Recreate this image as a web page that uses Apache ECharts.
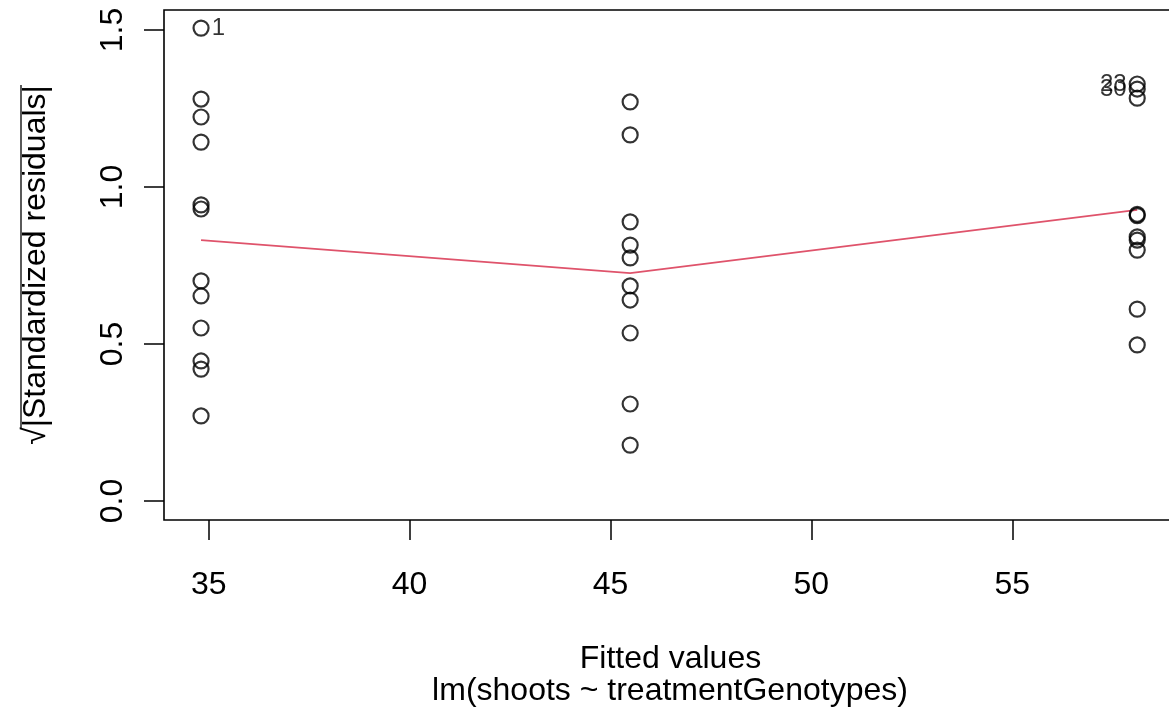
<!DOCTYPE html>
<html>
<head>
<meta charset="utf-8">
<script src="https://cdn.jsdelivr.net/npm/echarts@6/dist/echarts.min.js"></script>
<style>
html,body{margin:0;padding:0;background:#fff;}
#chart{width:1169px;height:715px;}
</style>
</head>
<body>
<div id="chart"></div>
<script>
// Fitted values (x positions of the three groups)
const fittedValues = [34.81, 45.49, 58.11];
// sqrt(|standardized residuals|) per group
const groupA = [1.506, 1.280, 1.223, 1.143, 0.943, 0.930, 0.701, 0.653, 0.551, 0.446, 0.420, 0.271];
const groupB = [1.271, 1.166, 0.889, 0.815, 0.774, 0.685, 0.640, 0.535, 0.309, 0.178];
const groupC = [1.328, 1.312, 1.283, 0.913, 0.909, 0.841, 0.831, 0.799, 0.611, 0.497];
// smoother (lowess) values at each fitted value
const smoothValues = [0.831, 0.726, 0.927];
// labelled observations: [group, index in group, label]
const pointLabels = [[0, 0, '1'], [2, 0, '23'], [2, 1, '30']];
const xTicks = [35, 40, 45, 50, 55];
const yTicks = [0, 0.5, 1, 1.5];

const FONT = '"Liberation Sans", Arial, sans-serif';
const FS = 32;
const groups = [groupA, groupB, groupC];
const scatterData = [];
groups.forEach((g, gi) => {
  g.forEach((v, i) => {
    const item = { value: [fittedValues[gi], v] };
    const lab = pointLabels.find(p => p[0] === gi && p[1] === i);
    if (lab) {
      item.label = {
        show: true,
        formatter: lab[2],
        position: gi === 2 ? 'left' : 'right',
        distance: 2,
        color: '#000',
        fontSize: 24,
        fontFamily: FONT
      };
    }
    scatterData.push(item);
  });
});

const chart = echarts.init(document.getElementById('chart'), null, { renderer: 'canvas' });
chart.setOption({
  animation: false,
  backgroundColor: '#fff',
  grid: {
    left: 164, top: 10, width: 1013, height: 510,
    outerBoundsMode: 'none', containLabel: false,
    show: true, borderColor: '#000', borderWidth: 1.6, backgroundColor: 'transparent'
  },
  xAxis: {
    type: 'value', min: 33.888, max: 59.10,
    axisLine: { show: false, onZero: false },
    splitLine: { show: false },
    axisTick: { show: true, inside: false, length: 20, customValues: xTicks, lineStyle: { color: '#000', width: 1.5 } },
    axisLabel: { customValues: xTicks, color: '#000', fontSize: FS, fontFamily: FONT, margin: 49 },
    name: 'Fitted values',
    nameLocation: 'middle', nameGap: 123,
    nameTextStyle: { color: '#000', fontSize: FS, fontFamily: FONT }
  },
  yAxis: {
    type: 'value', min: -0.0605, max: 1.5637,
    axisLine: { show: false, onZero: false },
    splitLine: { show: false },
    axisTick: { show: true, inside: false, length: 20, customValues: yTicks, lineStyle: { color: '#000', width: 1.5 } },
    axisLabel: {
      customValues: yTicks, rotate: 90, color: '#000', fontSize: FS, fontFamily: FONT, margin: 35,
      formatter: v => v.toFixed(1)
    }
  },
  graphic: [
    {
      type: 'text', x: 670, y: 675,
      style: { text: 'lm(shoots ~ treatmentGenotypes)', fill: '#000', font: FS + 'px ' + FONT, align: 'center', verticalAlign: 'top' }
    },
    {
      type: 'group', x: 36, y: 265, rotation: Math.PI / 2,
      children: [
        {
          type: 'text', x: 0, y: 0,
          style: { text: '\u221A|Standardized residuals|', fill: '#000', font: FS + 'px ' + FONT, align: 'center', verticalAlign: 'middle' }
        },
        {
          type: 'line',
          shape: { x1: -163, y1: -15, x2: 180, y2: -15 },
          style: { stroke: '#000', lineWidth: 1.3 }
        }
      ]
    }
  ],
  series: [
    {
      type: 'scatter', data: scatterData,
      symbol: 'circle', symbolSize: 15,
      itemStyle: { color: 'rgba(0,0,0,0)', borderColor: '#000', borderWidth: 2.2 },
      z: 3
    },
    {
      type: 'line', data: fittedValues.map((x, i) => [x, smoothValues[i]]),
      showSymbol: false, symbol: 'none',
      lineStyle: { color: '#DF536B', width: 1.8 },
      z: 2
    }
  ]
});
</script>
</body>
</html>
